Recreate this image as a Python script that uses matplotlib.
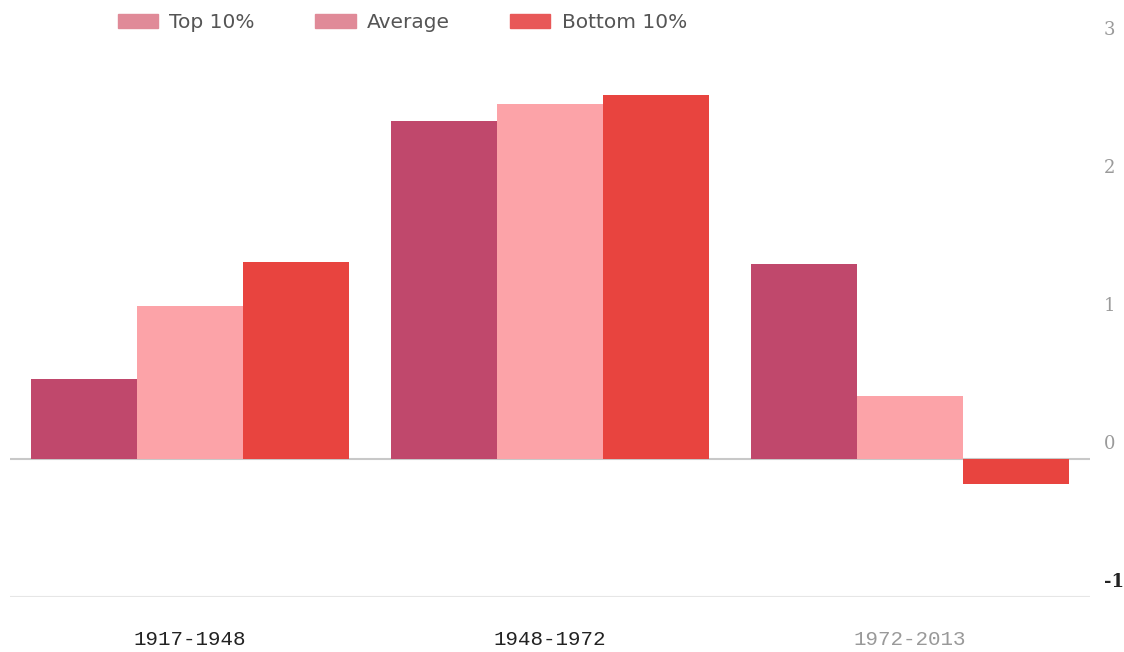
import numpy as np
import matplotlib
matplotlib.use("Agg")
import matplotlib.pyplot as plt
from matplotlib.patches import Patch
from matplotlib.transforms import ScaledTranslation

periods = ["1917-1948", "1948-1972", "1972-2013"]
series = ["Top 10%", "Average", "Bottom 10%"]
top10 = [0.58, 2.45, 1.41]
average = [1.11, 2.57, 0.46]
bottom10 = [1.43, 2.64, -0.18]
yticks = [-1, 0, 1, 2, 3]

bar_colors = ["#c0486c", "#fca3a8", "#e8443f"]
legend_colors = ["#e08a98", "#e08a98", "#e85858"]
label_colors = ["#222222", "#222222", "#999999"]

fig = plt.figure(figsize=(11.24, 6.52), dpi=100)
ax = fig.add_axes([10 / 1124, 55 / 652, 1080 / 1124, 552 / 652])

x = np.arange(len(periods))
w = 0.295
for i, vals in enumerate([top10, average, bottom10]):
    ax.bar(x + (i - 1) * w, vals, width=w, color=bar_colors[i], zorder=3)

ax.axhline(0, color="#c8c8c8", lw=1.5, zorder=2)
ax.axhline(-1, color="#e6e6e6", lw=1.5, zorder=2)

ax.set_xlim(-0.5, 2.5)
ax.set_ylim(-1, 3)
for s in ax.spines.values():
    s.set_visible(False)

ax.set_yticks(yticks)
ax.set_yticklabels([str(v) for v in yticks])
ax.tick_params(axis="y", length=0, labelleft=False, labelright=True, pad=10,
               labelsize=13)
shift = ScaledTranslation(0, 4 / 72, fig.dpi_scale_trans)
for lab, v in zip(ax.get_yticklabels(), yticks):
    lab.set_verticalalignment("bottom")
    lab.set_fontfamily("DejaVu Serif")
    lab.set_transform(lab.get_transform() + shift)
    if v == -1:
        lab.set_color("#222222")
        lab.set_fontweight("bold")
    else:
        lab.set_color("#9a9a9a")
        lab.set_fontweight("light")

ax.set_xticks(x)
ax.set_xticklabels(periods, fontfamily="Liberation Mono", fontsize=15)
ax.tick_params(axis="x", length=0, pad=24)
for lab, c in zip(ax.get_xticklabels(), label_colors):
    lab.set_color(c)

handles = [Patch(color=c) for c in legend_colors]
fig.legend(handles, series, loc="upper left", bbox_to_anchor=(100 / 1124, 1.008),
           ncol=3, frameon=False, fontsize=14.5, handlelength=2.0,
           handleheight=0.75, handletextpad=0.55, columnspacing=3.0,
           labelcolor="#555555")

fig.savefig("out.png", dpi=100, facecolor="white")
